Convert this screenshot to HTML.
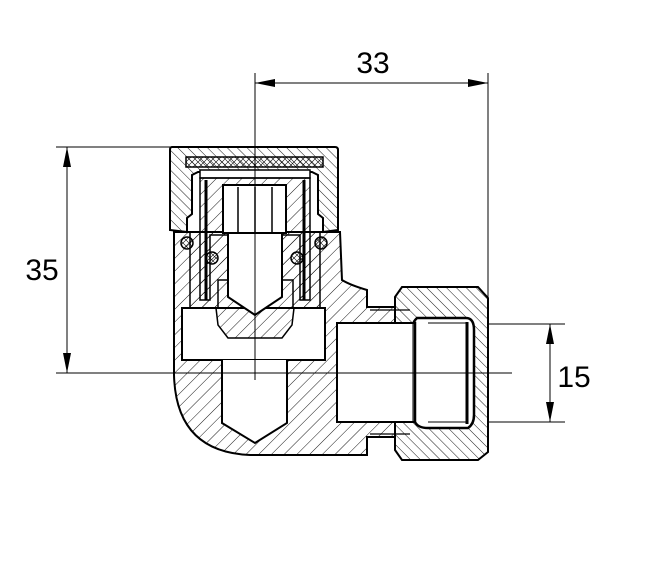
<!DOCTYPE html>
<html><head><meta charset="utf-8"><style>
html,body{margin:0;padding:0;background:#fff;}
svg{display:block;}
text{font-family:"Liberation Sans","DejaVu Sans",sans-serif;fill:#000;}
</style></head><body>
<svg width="645" height="561" viewBox="0 0 645 561" xmlns="http://www.w3.org/2000/svg">
<defs>
<pattern id="h" width="9" height="9" patternUnits="userSpaceOnUse" patternTransform="rotate(45)">
<line x1="0" y1="0" x2="0" y2="9" stroke="#000" stroke-width="0.9"/></pattern>
<pattern id="h2" width="7" height="7" patternUnits="userSpaceOnUse" patternTransform="rotate(-45)">
<line x1="0" y1="0" x2="0" y2="7" stroke="#000" stroke-width="0.9"/></pattern>
<pattern id="x" width="6" height="6" patternUnits="userSpaceOnUse">
<path d="M0 0L6 6M6 0L0 6" stroke="#000" stroke-width="0.6"/></pattern>
</defs>
<g stroke="#000" fill="none">
<path d="M174 232 L174 375 Q176 452 250 455 L367 455 L367 437 L395 437 L395 307 L367 307 L367 290 Q350 285 342 280 L340 232 Z" fill="url(#h)" stroke-width="2"/>
<path d="M402 287 L478 287 L488 298 L488 452 L478 460 L402 460 L395 450 L395 297 Z" fill="url(#h2)" stroke-width="2"/>
<rect x="337" y="323" width="80" height="99" fill="#fff" stroke-width="2"/>
<path d="M417 318 Q412 323 415 323 L415 422 Q418 428 428 428 L468 428 Q474 424 474 415 L474 330 Q474 318 466 318 Z" fill="#fff" stroke-width="2.5"/>
<line x1="413" y1="323" x2="413" y2="422" stroke-width="1"/>
<line x1="467" y1="322" x2="467" y2="424" stroke-width="3"/>
<line x1="428" y1="323" x2="468" y2="323" stroke-width="1"/>
<line x1="428" y1="422" x2="468" y2="422" stroke-width="1"/>
<path d="M370 310 L410 310 M370 434 L410 434" stroke-width="1.2"/>
<rect x="182" y="308" width="143" height="52" fill="#fff" stroke-width="2"/>
<path d="M222 360 L222 423 L255 443 L287 423 L287 360" fill="#fff" stroke-width="2"/>
<path d="M190 232 L190 308 L218 308 L218 280 L293 280 L293 308 L320 308 L320 232 Z" fill="url(#h)" stroke-width="1.5"/>
<path d="M216 308 L218 325 L228 338 L282 338 L292 325 L294 308 Z" fill="url(#h)" stroke-width="1.5"/>
<path d="M172 147 L335 147 Q338 147 338 150 L338 230 L323 232 L323 218 L318 214 L318 175 L312 172 L198 172 L192 175 L192 214 L187 218 L187 232 L170 230 L170 150 Q170 147 172 147 Z" fill="url(#h2)" stroke-width="2"/>
<rect x="186" y="157" width="137" height="10" fill="url(#x)" stroke-width="1.5"/>
<rect x="200" y="170" width="110" height="8" fill="#fff" stroke-width="1.5"/>
<path d="M200 178 L200 300 L210 300 L210 235 L228 235 L228 185 L283 185 L283 235 L300 235 L300 300 L310 300 L310 178 Z" fill="url(#h)" stroke-width="1.5"/>
<path d="M206 180 L206 300 M304 180 L304 300" stroke-width="3"/>
<rect x="223" y="185" width="63" height="48" fill="#fff" stroke-width="2"/>
<path d="M238 187 L238 233 M255 187 L255 233 M272 187 L272 233" stroke-width="1.5"/>
<path d="M228 233 L228 297 L255 315 L282 297 L282 233 Z" fill="#fff" stroke-width="2"/>
<circle cx="187" cy="243" r="6" fill="url(#x)" stroke-width="1.5"/>
<circle cx="321" cy="243" r="6" fill="url(#x)" stroke-width="1.5"/>
<circle cx="212" cy="258" r="6" fill="url(#x)" stroke-width="1.5"/>
<circle cx="297" cy="258" r="6" fill="url(#x)" stroke-width="1.5"/>
<line x1="255" y1="73" x2="255" y2="380" stroke-width="1"/>
<line x1="56" y1="373" x2="512" y2="373" stroke-width="1"/>
<line x1="488" y1="73" x2="488" y2="320" stroke-width="1"/>
<line x1="255" y1="83" x2="488" y2="83" stroke-width="1"/>
<line x1="56" y1="147" x2="170" y2="147" stroke-width="1"/>
<line x1="67" y1="147" x2="67" y2="373" stroke-width="1"/>
<line x1="488" y1="324" x2="565" y2="324" stroke-width="1"/>
<line x1="488" y1="422" x2="565" y2="422" stroke-width="1"/>
<line x1="550" y1="324" x2="550" y2="422" stroke-width="1"/>
</g>
<g fill="#000">
<path d="M255 83 L275 79 L275 87 Z"/><path d="M488 83 L468 79 L468 87 Z"/>
<path d="M67 147 L63 167 L71 167 Z"/><path d="M67 373 L63 353 L71 353 Z"/>
<path d="M550 324 L546 344 L554 344 Z"/><path d="M550 422 L546 402 L554 402 Z"/>
</g>
<text x="373" y="73" font-size="30" text-anchor="middle">33</text>
<text x="42" y="280" font-size="30" text-anchor="middle">35</text>
<text x="574" y="387" font-size="30" text-anchor="middle">15</text>
</svg>
</body></html>
